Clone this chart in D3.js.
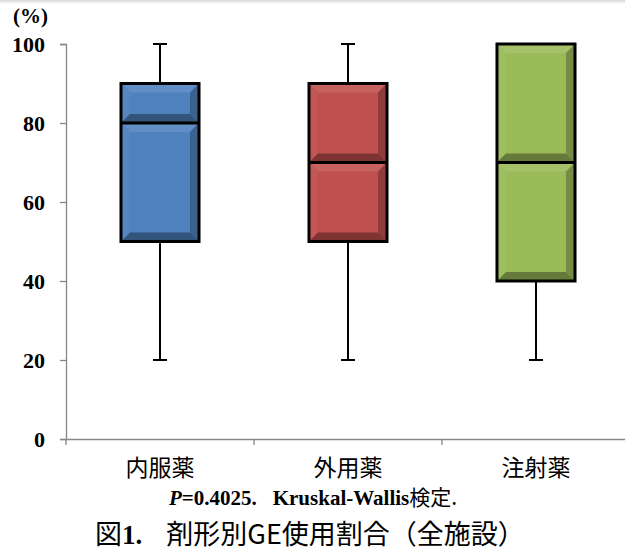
<!DOCTYPE html>
<html><head><meta charset="utf-8">
<script src="https://cdn.jsdelivr.net/npm/d3@7"></script>
<style>body{margin:0;background:#fff}svg{display:block}</style>
</head><body>
<script>
const categories = ["内服薬", "外用薬", "注射薬"];
const whiskerLow = [20, 20, 20];
const q1 = [50, 50, 40];
const medians = [80, 70, 70];
const q3 = [90, 90, 100];
const whiskerHigh = [100, 100, 100];
const colors = ["#4F81BD", "#C0504D", "#9BBB59"];
const yTicks = [0, 20, 40, 60, 80, 100];

const W = 625, H = 551;
const svg = d3.select("body").append("svg").attr("width", W).attr("height", H);

// top faint strip
const g0 = svg.append("defs").append("linearGradient").attr("id","topg").attr("x1",0).attr("x2",0).attr("y1",0).attr("y2",1);
g0.append("stop").attr("offset",0).attr("stop-color","#d8d8d8");
g0.append("stop").attr("offset",1).attr("stop-color","#ffffff");
svg.append("rect").attr("x",0).attr("y",0).attr("width",W).attr("height",4).attr("fill","url(#topg)");

const y = d3.scaleLinear().domain([0, 100]).range([439, 44]);
const x = d3.scaleBand().domain(categories).range([66, 630]).padding(0);

// y axis
const yAxis = svg.append("g").attr("transform", "translate(66,0)")
  .call(d3.axisLeft(y).tickValues(yTicks).tickSize(6).tickPadding(15));
yAxis.select(".domain").attr("stroke", "#868686").attr("stroke-width", 1.3);
yAxis.selectAll(".tick line").attr("stroke", "#868686").attr("stroke-width", 1.3);
yAxis.selectAll(".tick text").attr("font-family", "'Liberation Serif', serif")
  .attr("font-weight", "bold").attr("font-size", 22).attr("fill", "#000").attr("dy", "0.34em");

// x axis
const xAxis = svg.append("g").attr("transform", "translate(0,439)")
  .call(d3.axisBottom(x).tickSize(0));
xAxis.select(".domain").attr("stroke", "#868686").attr("stroke-width", 1.3);
xAxis.selectAll(".tick text").attr("font-family", "'Noto Sans CJK JP', sans-serif")
  .attr("font-size", 23).attr("fill", "#000").attr("y", 37).attr("dy", null);
// category boundary ticks
const bounds = [0,1,2,3].map(i => x.range()[0] + i * x.bandwidth());
svg.append("g").selectAll("line").data(bounds).join("line")
  .attr("x1", d => d).attr("x2", d => d).attr("y1", 439).attr("y2", 445)
  .attr("stroke", "#868686").attr("stroke-width", 1.3);

// "(%)"
svg.append("text").attr("x", 13).attr("y", 23).text("(%)")
  .attr("font-family", "'Liberation Serif', serif").attr("font-weight", "bold").attr("font-size", 21);

const boxW = x.bandwidth() * 0.415;

function shade(c, k) { return k > 0 ? d3.interpolateRgb(c, "#ffffff")(k) : d3.interpolateRgb(c, "#000000")(-k); }

function bevelBox(g, x0, y0, w, h, c) {
  const b = Math.min(9, h / 4);
  g.append("rect").attr("x", x0).attr("y", y0).attr("width", w).attr("height", h).attr("fill", c);
  const poly = (pts, fill) => g.append("polygon").attr("points", pts.map(p => p.join(",")).join(" ")).attr("fill", fill);
  poly([[x0,y0],[x0+w,y0],[x0+w-b,y0+b],[x0+b,y0+b]], shade(c, 0.1));
  poly([[x0,y0],[x0+b,y0+b],[x0+b,y0+h-b],[x0,y0+h]], shade(c, 0.04));
  poly([[x0+w,y0],[x0+w,y0+h],[x0+w-b,y0+h-b],[x0+w-b,y0+b]], shade(c, -0.25));
  poly([[x0,y0+h],[x0+b,y0+h-b],[x0+w-b,y0+h-b],[x0+w,y0+h]], shade(c, -0.35));
}

categories.forEach((cat, i) => {
  const cx = x(cat) + x.bandwidth() / 2;
  const g = svg.append("g");
  g.append("line").attr("x1", cx).attr("x2", cx).attr("y1", y(whiskerHigh[i])).attr("y2", y(q3[i]))
    .attr("stroke", "#000").attr("stroke-width", 2);
  g.append("line").attr("x1", cx).attr("x2", cx).attr("y1", y(q1[i])).attr("y2", y(whiskerLow[i]))
    .attr("stroke", "#000").attr("stroke-width", 2);
  [whiskerHigh[i], whiskerLow[i]].forEach(v => {
    g.append("line").attr("x1", cx - 7).attr("x2", cx + 7).attr("y1", y(v)).attr("y2", y(v))
      .attr("stroke", "#000").attr("stroke-width", 2);
  });
  const x0 = cx - boxW / 2;
  bevelBox(g, x0, y(q3[i]), boxW, y(medians[i]) - y(q3[i]), colors[i]);
  bevelBox(g, x0, y(medians[i]), boxW, y(q1[i]) - y(medians[i]), colors[i]);
  g.append("rect").attr("x", x0).attr("y", y(q3[i])).attr("width", boxW).attr("height", y(q1[i]) - y(q3[i]))
    .attr("fill", "none").attr("stroke", "#000").attr("stroke-width", 3);
  g.append("line").attr("x1", x0).attr("x2", x0 + boxW).attr("y1", y(medians[i])).attr("y2", y(medians[i]))
    .attr("stroke", "#000").attr("stroke-width", 3);
});

// subtitle
const sub = svg.append("text").attr("x", 313).attr("y", 505).attr("text-anchor", "middle")
  .attr("font-size", 21).attr("fill", "#000");
sub.append("tspan").attr("font-family", "'Liberation Serif', serif").attr("font-weight", "bold").attr("font-style", "italic").text("P");
sub.append("tspan").attr("font-family", "'Liberation Serif', serif").attr("font-weight", "bold").text("=0.4025.");
sub.append("tspan").attr("font-family", "'Liberation Serif', serif").attr("font-weight", "bold").attr("dx", 16).text("Kruskal-Wallis");
sub.append("tspan").attr("font-family", "'Noto Sans CJK JP', sans-serif").text("検定.");

// title
const tt = svg.append("text").attr("x", 310).attr("y", 544).attr("text-anchor", "middle")
  .attr("font-size", 27).attr("fill", "#000");
tt.append("tspan").attr("font-family", "'Noto Sans CJK JP', sans-serif").text("図");
tt.append("tspan").attr("font-family", "'Liberation Serif', serif").attr("font-weight", "bold").text("1.");
tt.append("tspan").attr("font-family", "'Noto Sans CJK JP', sans-serif").attr("dx", 24).text("剤形別GE使用割合（全施設）");
</script>
</body></html>
